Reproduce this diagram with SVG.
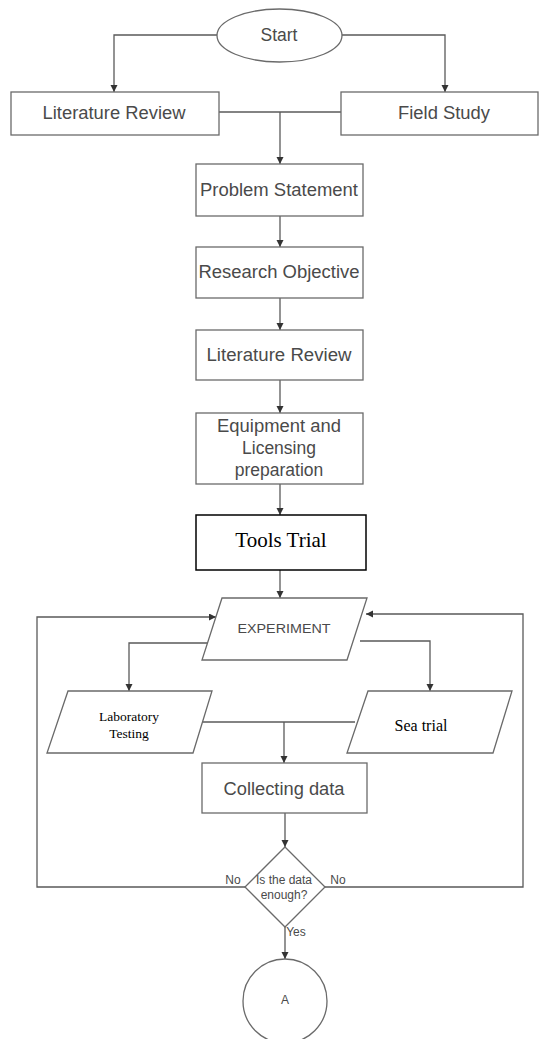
<svg xmlns="http://www.w3.org/2000/svg" width="539" height="1039" viewBox="0 0 539 1039">
<defs>
<marker id="ah" markerUnits="userSpaceOnUse" markerWidth="8" markerHeight="8" refX="7" refY="3.5" orient="auto">
<path d="M0,0 L7,3.5 L0,7 Z" fill="#333"/>
</marker>
<style>
.b{fill:#fff;stroke:#6a6a6a;stroke-width:1.3}
.bk{fill:#fff;stroke:#000;stroke-width:1.5}
.t{font-family:"Liberation Sans",Arial,sans-serif;font-size:17.5px;fill:#4a4a4a;text-anchor:middle;dominant-baseline:central}
.s{font-family:"Liberation Sans",Arial,sans-serif;font-size:12px;fill:#4a4a4a;text-anchor:middle;dominant-baseline:central}
.r{font-family:"Liberation Serif","Times New Roman",serif;fill:#000;text-anchor:middle;dominant-baseline:central}
.c{fill:none;stroke:#5a5a5a;stroke-width:1.3}
.ca{fill:none;stroke:#5a5a5a;stroke-width:1.3;marker-end:url(#ah)}
</style>
</defs>
<rect width="539" height="1039" fill="#fff"/>
<g id="connectors">
<path class="ca" d="M217,35 H114 V92"/>
<path class="ca" d="M342,35 H445 V92"/>
<path class="c" d="M219,112 H341"/>
<path class="ca" d="M280,112 V164"/>
<path class="ca" d="M280,216 V247"/>
<path class="ca" d="M280,298 V330"/>
<path class="ca" d="M280,380 V413"/>
<path class="ca" d="M280,484 V515"/>
<path class="ca" d="M280,570 V598"/>
<path class="ca" d="M209,643 H129 V691"/>
<path class="ca" d="M360,641 H430 V691"/>
<path class="c" d="M203,722 H355"/>
<path class="ca" d="M284,722 V763"/>
<path class="ca" d="M285,813 V847"/>
<path class="ca" d="M285,927 V959"/>
<path class="ca" d="M245,887 H37 V617 H216"/>
<path class="ca" d="M325,887 H523 V614 H366"/>
</g>
<g id="start"><ellipse class="b" cx="279.5" cy="35.5" rx="62.5" ry="26.5"/><text class="t" x="279" y="35" font-size="18">Start</text></g>
<g id="lit1"><rect class="b" x="11" y="92" width="208" height="43"/><text class="t" x="114" y="113" textLength="143" lengthAdjust="spacingAndGlyphs">Literature Review</text></g>
<g id="field"><rect class="b" x="341" y="92" width="197" height="43"/><text class="t" x="444" y="113" textLength="92" lengthAdjust="spacingAndGlyphs">Field Study</text></g>
<g id="problem"><rect class="b" x="196" y="164" width="167" height="52"/><text class="t" x="279" y="190" textLength="158" lengthAdjust="spacingAndGlyphs">Problem Statement</text></g>
<g id="objective"><rect class="b" x="196" y="247" width="167" height="51"/><text class="t" x="279" y="272" textLength="161" lengthAdjust="spacingAndGlyphs">Research Objective</text></g>
<g id="lit2"><rect class="b" x="196" y="330" width="167" height="50"/><text class="t" x="279" y="355" textLength="145" lengthAdjust="spacingAndGlyphs">Literature Review</text></g>
<g id="equip"><rect class="b" x="196" y="413" width="167" height="71"/><text class="t" x="279" y="426" textLength="124" lengthAdjust="spacingAndGlyphs">Equipment and</text><text class="t" x="279" y="448">Licensing</text><text class="t" x="279" y="470">preparation</text></g>
<g id="tools"><rect class="bk" x="196" y="515" width="170" height="55"/><text class="r" x="281" y="540" font-size="21">Tools Trial</text></g>
<g id="experiment"><polygon class="b" points="222,598 367,598 347,660 202,660"/><text class="s" x="284" y="629" font-size="13" textLength="93" lengthAdjust="spacingAndGlyphs">EXPERIMENT</text></g>
<g id="lab"><polygon class="b" points="68,691 212,691 193,753 47,753"/><text class="r" x="129" y="716" font-size="13.5">Laboratory</text><text class="r" x="129" y="733" font-size="13.5">Testing</text></g>
<g id="sea"><polygon class="b" points="368,691 512,691 493,753 347,753"/><text class="r" x="421" y="725" font-size="16">Sea trial</text></g>
<g id="collect"><rect class="b" x="202" y="763" width="165" height="50"/><text class="t" x="284" y="789" textLength="121" lengthAdjust="spacingAndGlyphs">Collecting data</text></g>
<g id="decision"><polygon class="b" points="285,847 325,887 285,927 245,887"/><text class="s" x="284" y="880">Is the data</text><text class="s" x="284" y="895">enough?</text></g>
<g id="labels"><text class="s" x="233" y="880">No</text><text class="s" x="338" y="880">No</text><text class="s" x="296" y="932" font-size="11">Yes</text></g>
<g id="connectorA"><circle class="b" cx="285" cy="1001" r="42"/><text class="s" x="285" y="1000">A</text></g>
</svg>
